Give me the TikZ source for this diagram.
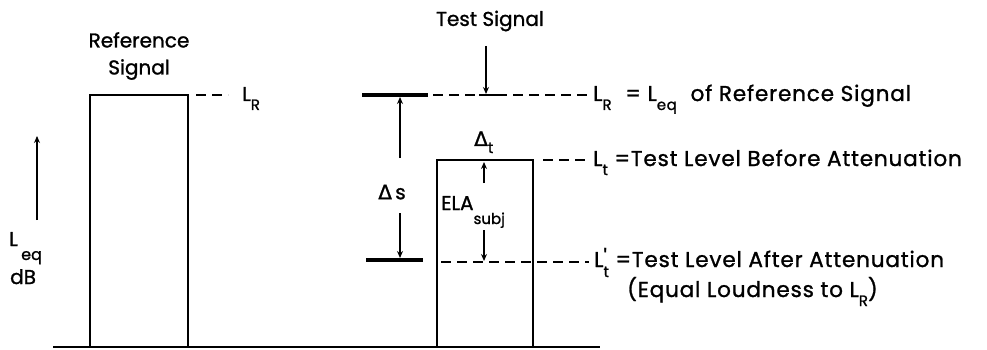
\documentclass[tikz,border=0pt]{standalone}
\usepackage{fontspec}
\setmainfont{Poppins}[FakeBold=1.2]
\newfontfamily\widefont{Poppins}[FakeBold=1.2,LetterSpace=4]
\newfontfamily\dvfont{DejaVu Sans}[FakeBold=1.2]
\usetikzlibrary{arrows.meta}
\newcommand{\lsub}[2][9pt]{\raisebox{-#1}{\fontsize{15}{16}\selectfont #2}}
\newcommand{\Dl}{{\dvfont Δ}}
\begin{document}
\begin{tikzpicture}[x=1pt,y=-1pt,
  every node/.style={inner sep=0pt, font=\fontsize{20}{27}\selectfont},
  righttext/.style={anchor=base west, font=\widefont\fontsize{21.5}{27}\selectfont},
  baseline line/.style={line width=1.4pt},
  boxline/.style={line width=1.9pt},
  heavyline/.style={line width=3.2pt},
  dashline/.style={line width=1.6pt, dash pattern=on 10pt off 6pt},
  arr/.style={line width=1.3pt, -{Stealth[length=7pt,width=6pt]}}
]
\useasboundingbox (0,0) rectangle (987,350);

% baseline
\coordinate (b0) at (53,347); \coordinate (b1) at (600,347);
\draw[baseline line] (b0) -- (b1);

% reference box
\coordinate (r1) at (90,347); \coordinate (r2) at (90,95);
\coordinate (r3) at (188,95); \coordinate (r4) at (188,347);
\draw[boxline] (r1) -- (r2) -- (r3) -- (r4);
\node[align=center] (reftxt) at (139,56) {Reference\\Signal};
\coordinate (rd0) at (196,95); \coordinate (rd1) at (228,95);
\draw[dashline] (rd0) -- (rd1);
\node[anchor=base west] (lrl) at (242,101) {L\lsub{R}};

% y axis
\coordinate (ya0) at (37,220); \coordinate (ya1) at (37,136);
\draw[arr] (ya0) -- (ya1);
\node[anchor=base west] (yL) at (9,246) {L};
\node[anchor=base west, font=\fontsize{16}{18}\selectfont] (yeq) at (21,260) {eq};
\node[anchor=base west] (ydB) at (10,284) {dB};

% test side: top level
\coordinate (ts0) at (362,95); \coordinate (ts1) at (428,95);
\draw[heavyline] (ts0) -- (ts1);
\coordinate (td0) at (433,95); \coordinate (td1) at (588,95);
\draw[dashline] (td0) -- (td1);
\coordinate (tf0) at (479,95); \coordinate (tf1) at (503,95);
\draw[line width=1.8pt] (tf0) -- (tf1);
\node (testtxt) at (490,21) {Test Signal};
\coordinate (tsb) at (486,46); \coordinate (tsa) at (486,94);
\draw[arr] (tsb) -- (tsa);
\node[righttext] (lrtxt) at (593,101) {L\lsub{R}\,\, = L\lsub{eq}\,\, of Reference Signal};

% delta s
\node (ds) at (392,192) {\Dl\,s};
\coordinate (dsa) at (400,158); \coordinate (dsT) at (400,97);
\coordinate (dsb) at (400,213); \coordinate (dsB) at (400,258);
\draw[arr] (dsa) -- (dsT);
\draw[arr] (dsb) -- (dsB);
\coordinate (ls0) at (366,260); \coordinate (ls1) at (423,260);
\draw[heavyline] (ls0) -- (ls1);

% test box
\coordinate (t1) at (437,347); \coordinate (t2) at (437,160);
\coordinate (t3) at (533,160); \coordinate (t4) at (533,347);
\draw[boxline] (t1) -- (t2) -- (t4 |- t2) -- (t4);
\draw[line width=2.6pt] (t2) -- (t3);
\node[anchor=base west] (dt) at (474,146) {\Dl\lsub[7pt]{t}};

% L_t level
\coordinate (lt0) at (543,160); \coordinate (lt1) at (588,160);
\draw[dashline] (lt0) -- (lt1);
\node[righttext] (lttxt) at (593,166) {L\lsub{t} =Test Level Before Attenuation};

% ELA
\coordinate (e0) at (484,183); \coordinate (e1) at (484,162);
\draw[arr] (e0) -- (e1);
\coordinate (e2) at (484,230); \coordinate (e3) at (484,261);
\draw[arr] (e2) -- (e3);
\node[anchor=base west] (ela) at (441,210) {ELA\lsub[14pt]{subj}};

% L_t' level
\coordinate (lp0) at (441,262); \coordinate (lp1) at (589,262);
\draw[dashline] (lp0) -- (lp1);
\node[righttext] (lptxt) at (594,267) {L\rlap{\raisebox{2pt}{'}}\lsub[10pt]{t} =Test Level After Attenuation};
\node[righttext] (lptxt2) at (627,297) {(Equal Loudness to L\lsub{R})};
\end{tikzpicture}
\end{document}
